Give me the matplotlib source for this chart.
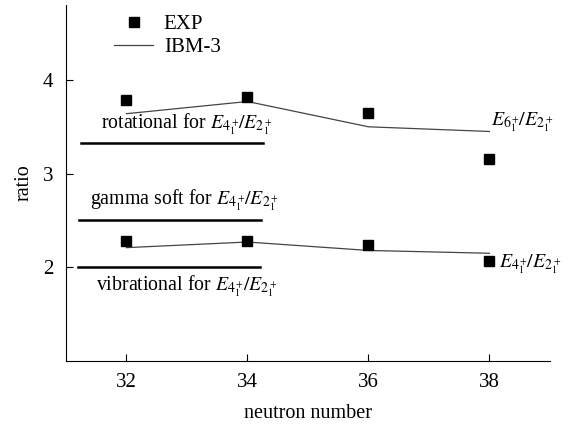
import numpy as np
import matplotlib
matplotlib.use("Agg")
import matplotlib.pyplot as plt

plt.rcParams['font.family'] = ['Liberation Serif', 'DejaVu Serif']
plt.rcParams['mathtext.fontset'] = 'stix'

neutrons = [32, 34, 36, 38]
exp_r42 = [2.28, 2.28, 2.235, 2.07]
exp_r62 = [3.79, 3.82, 3.65, 3.16]
ibm_r42 = [2.21, 2.27, 2.18, 2.15]
ibm_r62 = [3.64, 3.77, 3.50, 3.45]

# limit values (rotational, gamma soft, vibrational)
limit_names = ['rotational', 'gamma soft', 'vibrational']
limit_values = [3.33, 2.5, 2.0]
r42 = r'$E_{4_1^+}\!/E_{2_1^+}$'
r62 = r'$E_{6_1^+}\!/E_{2_1^+}$'

fig = plt.figure(figsize=(5.7, 4.25), dpi=100)
ax = fig.add_axes([0.1158, 0.1506, 0.849, 0.8376])

ax.plot(neutrons, ibm_r62, color='#444444', lw=0.9, label='IBM-3')
ax.plot(neutrons, ibm_r42, color='#444444', lw=0.9)
ax.plot(neutrons, exp_r62, 's', color='black', ms=7, label='EXP')
ax.plot(neutrons, exp_r42, 's', color='black', ms=7)

# limit lines
ax.plot([31.25, 34.25], [limit_values[0]] * 2, color='black', lw=1.8)
ax.plot([31.22, 34.22], [limit_values[1]] * 2, color='black', lw=1.8)
ax.plot([31.2, 34.2], [limit_values[2]] * 2, color='black', lw=1.8)
ax.text(33.0, limit_values[0] + 0.2, limit_names[0] + ' for ' + r42, ha='center', va='center', fontsize=14.3)
ax.text(32.95, limit_values[1] + 0.22, limit_names[1] + ' for ' + r42, ha='center', va='center', fontsize=14.3)
ax.text(33.0, limit_values[2] - 0.2, limit_names[2] + ' for ' + r42, ha='center', va='center', fontsize=14.3)

ax.text(38.03, 3.55, r62, ha='left', va='center', fontsize=14.3)
ax.text(38.15, 2.03, r42, ha='left', va='center', fontsize=14.3)

ax.set_xlim(31, 39)
ax.set_ylim(1, 4.8)
ax.set_xticks([32, 34, 36, 38])
ax.set_yticks([2, 3, 4])
ax.tick_params(direction='in', labelsize=15, length=5, width=0.8, pad=9)
ax.spines['top'].set_visible(False)
ax.spines['right'].set_visible(False)
ax.set_xlabel('neutron number', fontsize=14.5, labelpad=8)
ax.set_ylabel('ratio', fontsize=14.5, labelpad=7)

h, l = ax.get_legend_handles_labels()
ax.legend([h[1], h[0]], [l[1], l[0]], loc='upper left', bbox_to_anchor=(0.06, 1.025),
          frameon=False, fontsize=15, handlelength=1.9, handletextpad=0.5, labelspacing=0.15)

plt.savefig('out.png', dpi=100)
